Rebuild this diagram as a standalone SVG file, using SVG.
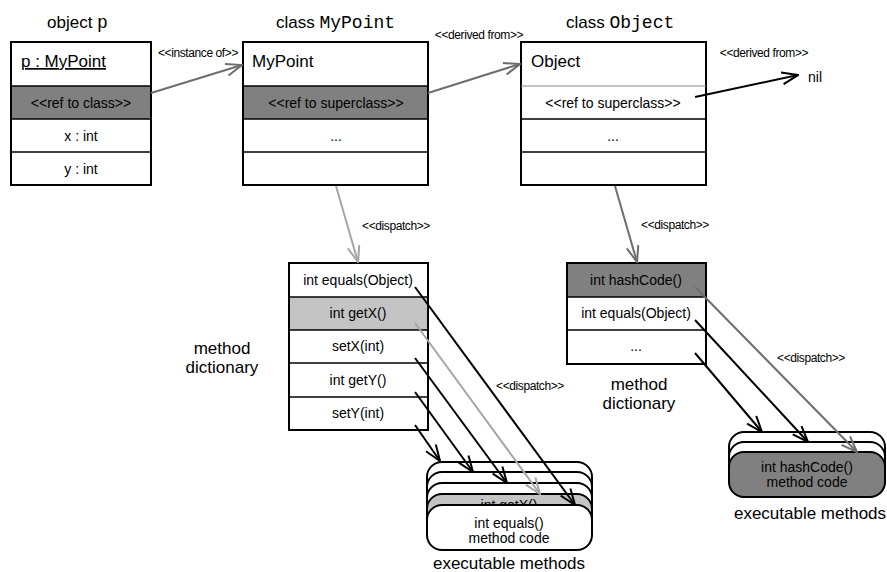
<svg xmlns="http://www.w3.org/2000/svg" width="887" height="572" viewBox="0 0 887 572">
  <style>
    text { font-family: "Liberation Sans", Arial, sans-serif; fill: #000; }
    .mono { font-family: "Liberation Mono", "Courier New", monospace; }
    .title { font-size: 17px; }
    .hdr { font-size: 17px; }
    .row { font-size: 14px; text-anchor: middle; }
    .lbl { font-size: 12px; letter-spacing: -0.4px; text-anchor: middle; }
    .cap { font-size: 17px; text-anchor: middle; }
    .box { fill: #fff; stroke: #000; stroke-width: 2; }
    .div { stroke: #000; stroke-width: 1.5; }
    .dark { fill: #808080; }
    .light { fill: #c4c4c4; }
    .layer { stroke: #000; stroke-width: 2; }
    .c-black { fill: none; stroke: #000; stroke-width: 2; }
    .c-mid { fill: none; stroke: #6e6e6e; stroke-width: 2; }
    .c-light { fill: none; stroke: #a6a6a6; stroke-width: 2; }
  </style>
  <defs>
    <marker id="ah-black" viewBox="0 0 18 14" refX="17" refY="7" markerWidth="18" markerHeight="14" orient="auto" markerUnits="userSpaceOnUse">
      <path d="M1,1 L17,7 L1,13" fill="none" stroke="#000" stroke-width="2"/>
    </marker>
    <marker id="ah-mid" viewBox="0 0 18 14" refX="17" refY="7" markerWidth="18" markerHeight="14" orient="auto" markerUnits="userSpaceOnUse">
      <path d="M1,1 L17,7 L1,13" fill="none" stroke="#6e6e6e" stroke-width="2"/>
    </marker>
    <marker id="ah-light" viewBox="0 0 18 14" refX="17" refY="7" markerWidth="18" markerHeight="14" orient="auto" markerUnits="userSpaceOnUse">
      <path d="M1,1 L17,7 L1,13" fill="none" stroke="#a6a6a6" stroke-width="2"/>
    </marker>
  </defs>

  <rect width="887" height="572" fill="#fff"/>

  <!-- object p -->
  <g id="object-p">
    <text class="title" x="47" y="28">object <tspan class="mono" font-size="18">p</tspan></text>
    <rect class="box" x="11" y="42" width="140" height="143"/>
    <rect class="dark" x="11" y="86" width="140" height="33"/>
    <line class="div" x1="11" y1="86" x2="151" y2="86"/>
    <line class="div" x1="11" y1="119" x2="151" y2="119"/>
    <line class="div" x1="11" y1="152" x2="151" y2="152"/>
    <rect x="11" y="42" width="140" height="143" fill="none" stroke="#000" stroke-width="2"/>
    <text class="hdr" x="21" y="67" text-decoration="underline">p : MyPoint</text>
    <text class="row" x="81" y="108">&lt;&lt;ref to class&gt;&gt;</text>
    <text class="row" x="81" y="141">x : int</text>
    <text class="row" x="81" y="174">y : int</text>
  </g>

  <!-- class MyPoint -->
  <g id="class-mypoint">
    <text class="title" x="276" y="28">class <tspan class="mono" font-size="18">MyPoint</tspan></text>
    <rect class="box" x="243" y="42" width="185" height="143"/>
    <rect class="dark" x="243" y="86" width="185" height="33"/>
    <line class="div" x1="243" y1="86" x2="428" y2="86"/>
    <line class="div" x1="243" y1="119" x2="428" y2="119"/>
    <line class="div" x1="243" y1="152" x2="428" y2="152"/>
    <rect x="243" y="42" width="185" height="143" fill="none" stroke="#000" stroke-width="2"/>
    <text class="hdr" x="252" y="67">MyPoint</text>
    <text class="row" x="336" y="108">&lt;&lt;ref to superclass&gt;&gt;</text>
    <text class="row" x="336" y="141">...</text>
  </g>

  <!-- class Object -->
  <g id="class-object">
    <text class="title" x="566" y="28">class <tspan class="mono" font-size="18">Object</tspan></text>
    <rect class="box" x="521" y="42" width="185" height="143"/>
    <line x1="521" y1="86" x2="706" y2="86" stroke="#888" stroke-width="1.2"/>
    <line class="div" x1="521" y1="119" x2="706" y2="119"/>
    <line class="div" x1="521" y1="152" x2="706" y2="152"/>
    <text class="hdr" x="531" y="67">Object</text>
    <text class="row" x="613" y="108">&lt;&lt;ref to superclass&gt;&gt;</text>
    <text class="row" x="613" y="141">...</text>
  </g>

  <g id="nil">
    <text x="808" y="82" font-size="14">nil</text>
  </g>

  <!-- method dictionary of MyPoint -->
  <g id="dict-mypoint">
    <rect class="box" x="289" y="263" width="139" height="167"/>
    <rect class="light" x="289" y="297" width="139" height="33"/>
    <line class="div" x1="289" y1="297" x2="428" y2="297"/>
    <line class="div" x1="289" y1="330" x2="428" y2="330"/>
    <line class="div" x1="289" y1="363" x2="428" y2="363"/>
    <line class="div" x1="289" y1="397" x2="428" y2="397"/>
    <rect x="289" y="263" width="139" height="167" fill="none" stroke="#000" stroke-width="2"/>
    <text class="row" x="358" y="285">int equals(Object)</text>
    <text class="row" x="358" y="318">int getX()</text>
    <text class="row" x="358" y="351">setX(int)</text>
    <text class="row" x="358" y="385">int getY()</text>
    <text class="row" x="358" y="418">setY(int)</text>
    <text class="cap" x="222" y="354">method</text>
    <text class="cap" x="222" y="373">dictionary</text>
  </g>

  <!-- method dictionary of Object -->
  <g id="dict-object">
    <rect class="box" x="567" y="263" width="139" height="101"/>
    <rect class="dark" x="567" y="263" width="139" height="34"/>
    <line class="div" x1="567" y1="297" x2="706" y2="297"/>
    <line class="div" x1="567" y1="330" x2="706" y2="330"/>
    <rect x="567" y="263" width="139" height="101" fill="none" stroke="#000" stroke-width="2"/>
    <text class="row" x="636" y="285">int hashCode()</text>
    <text class="row" x="636" y="318">int equals(Object)</text>
    <text class="row" x="636" y="351">...</text>
    <text class="cap" x="639" y="390">method</text>
    <text class="cap" x="639" y="409">dictionary</text>
  </g>

  <!-- executable methods of MyPoint: stacked code blocks, front one last -->
  <g id="code-mypoint">
    <rect class="layer" x="427" y="462" width="165" height="45" rx="15" fill="#fff"/>
    <rect class="layer" x="427" y="472" width="165" height="45" rx="15" fill="#fff"/>
    <rect class="layer" x="427" y="483" width="165" height="45" rx="15" fill="#fff"/>
    <rect class="layer" x="427" y="494" width="165" height="45" rx="15" fill="#c4c4c4"/>
    <text class="row" x="509" y="510">int getX()</text>
    <rect class="layer" x="427" y="505" width="165" height="45" rx="15" fill="#fff"/>
    <text class="row" x="509" y="528">int equals()</text>
    <text class="row" x="509" y="543">method code</text>
    <text class="cap" x="509" y="569">executable methods</text>
  </g>

  <!-- executable methods of Object -->
  <g id="code-object">
    <rect class="layer" x="729" y="432" width="156" height="45" rx="15" fill="#fff"/>
    <rect class="layer" x="729" y="442" width="156" height="45" rx="15" fill="#fff"/>
    <rect class="layer" x="729" y="452" width="156" height="45" rx="15" fill="#808080"/>
    <text class="row" x="807" y="472">int hashCode()</text>
    <text class="row" x="807" y="487">method code</text>
    <text class="cap" x="810" y="519">executable methods</text>
  </g>

  <!-- connectors -->
  <g id="connectors">
    <line class="c-mid" x1="151" y1="93" x2="242" y2="65" marker-end="url(#ah-mid)"/>
    <text class="lbl" x="198" y="57">&lt;&lt;instance of&gt;&gt;</text>

    <line class="c-mid" x1="428" y1="93" x2="520" y2="64" marker-end="url(#ah-mid)"/>
    <text class="lbl" x="479" y="39">&lt;&lt;derived from&gt;&gt;</text>

    <line class="c-black" x1="695" y1="97" x2="798" y2="75" marker-end="url(#ah-black)"/>
    <text class="lbl" x="764" y="57">&lt;&lt;derived from&gt;&gt;</text>

    <line class="c-light" x1="336" y1="186" x2="358" y2="262" marker-end="url(#ah-light)"/>
    <text class="lbl" x="396" y="230">&lt;&lt;dispatch&gt;&gt;</text>

    <line class="c-mid" x1="615" y1="186" x2="637" y2="262" marker-end="url(#ah-mid)"/>
    <text class="lbl" x="675" y="229">&lt;&lt;dispatch&gt;&gt;</text>

    <line class="c-black" x1="415" y1="287" x2="575" y2="505" marker-end="url(#ah-black)"/>
    <line class="c-light" x1="415" y1="323" x2="540" y2="494" marker-end="url(#ah-light)"/>
    <line class="c-black" x1="415" y1="358" x2="507" y2="483" marker-end="url(#ah-black)"/>
    <line class="c-black" x1="415" y1="392" x2="473" y2="472" marker-end="url(#ah-black)"/>
    <line class="c-black" x1="415" y1="425" x2="440" y2="461" marker-end="url(#ah-black)"/>
    <text class="lbl" x="530" y="390">&lt;&lt;dispatch&gt;&gt;</text>

    <line class="c-mid" x1="695" y1="287" x2="857" y2="452" marker-end="url(#ah-mid)"/>
    <line class="c-black" x1="695" y1="320" x2="808" y2="442" marker-end="url(#ah-black)"/>
    <line class="c-black" x1="695" y1="353" x2="762" y2="432" marker-end="url(#ah-black)"/>
    <text class="lbl" x="811" y="362">&lt;&lt;dispatch&gt;&gt;</text>
  </g>
</svg>
